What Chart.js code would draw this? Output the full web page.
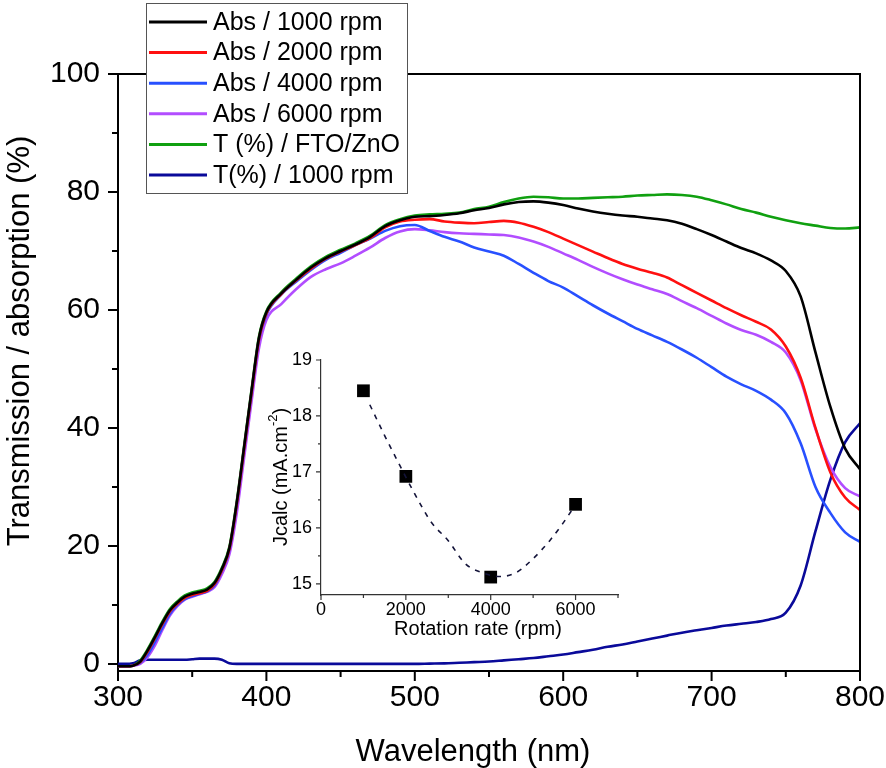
<!DOCTYPE html>
<html>
<head>
<meta charset="utf-8">
<script src="https://cdn.jsdelivr.net/npm/chart.js@4.4.1/dist/chart.umd.min.js"></script>
<style>
  body { margin: 0; background: #fff; }
  #wrap { position: relative; width: 886px; height: 768px; }
  #wrap canvas { position: absolute; left: 0; top: 0; }
</style>
</head>
<body>
<div id="wrap">
  <canvas id="mainChart" width="886" height="768"></canvas>
  <canvas id="insetChart" width="886" height="768"></canvas>
</div>
<script>
// main spectra, wavelength in nm
const wavelengths = [300,305,310,315,320,325,330,335,340,345,350,355,360,365,370,375,380,385,390,395,400,
  410,420,430,440,450,460,470,480,490,500,510,520,530,540,550,560,570,580,590,600,
  610,620,630,640,650,660,670,680,690,700,710,720,730,740,750,760,770,780,790,800];

const abs1000 = [-0.4,-0.4,-0.3,0.4,2.3,4.6,7.0,9.1,10.4,11.4,11.9,12.2,12.6,13.7,16.1,19.6,27.3,36.8,46.3,55.3,59.6,
  62.8,65.1,67.2,68.8,70.0,71.1,72.4,74.2,75.2,75.8,75.9,76.1,76.4,76.9,77.3,77.9,78.3,78.4,78.2,77.8,
  77.2,76.7,76.3,76.0,75.8,75.5,75.2,74.6,73.7,72.7,71.6,70.5,69.6,68.4,66.6,62.3,52.8,43.6,36.5,33.0];

const abs2000 = [-0.4,-0.4,-0.3,0.3,2.1,4.4,6.8,8.9,10.2,11.2,11.7,12.0,12.4,13.5,15.9,19.4,27.0,36.5,46.0,55.0,59.4,
  62.7,65.0,67.0,68.7,69.9,71.0,72.2,74.0,75.0,75.3,75.4,75.0,74.8,74.7,74.9,75.1,74.8,74.1,73.2,72.1,
  71.0,69.9,68.8,67.8,67.0,66.3,65.5,64.2,62.9,61.6,60.3,59.1,58.0,56.7,53.8,48.5,40.0,32.5,28.2,26.1];

const abs4000 = [-0.4,-0.4,-0.3,0.2,1.6,3.8,6.2,8.5,10.0,11.0,11.5,11.9,12.3,13.3,15.8,19.3,27.0,36.5,46.0,55.0,59.2,
  62.6,64.8,66.8,68.5,69.7,71.0,72.1,73.4,74.2,74.4,73.4,72.4,71.6,70.6,69.9,69.2,67.8,66.3,64.9,63.8,
  62.3,60.8,59.4,58.1,56.8,55.7,54.6,53.3,51.9,50.3,48.7,47.4,46.3,44.8,42.5,37.4,30.0,25.6,22.3,20.7];

const abs6000 = [-0.4,-0.4,-0.3,0.0,1.2,3.2,5.8,8.2,9.8,10.9,11.4,11.8,12.2,13.0,15.2,18.5,25.5,35.0,44.5,53.5,58.3,
  61.0,63.5,65.6,66.9,67.9,69.2,70.6,72.2,73.3,73.7,73.5,73.2,73.0,72.9,72.8,72.7,72.3,71.6,70.7,69.6,
  68.5,67.3,66.2,65.2,64.3,63.5,62.7,61.5,60.3,59.0,57.7,56.6,55.8,54.6,52.8,48.1,39.8,33.4,29.8,28.4];

const tFtoZno = [-0.4,-0.4,-0.3,0.6,2.5,4.8,7.2,9.3,10.6,11.6,12.1,12.4,12.8,13.9,16.3,19.8,27.5,37.0,46.5,55.5,59.8,
  63.0,65.3,67.4,69.0,70.2,71.3,72.6,74.4,75.4,76.0,76.2,76.3,76.5,77.1,77.5,78.3,78.9,79.2,79.1,78.9,
  78.9,79.0,79.1,79.2,79.4,79.5,79.6,79.5,79.2,78.6,77.9,77.1,76.5,75.8,75.2,74.7,74.3,73.9,73.8,74.0];

const t1000 = [0.0,0.0,0.1,0.6,0.7,0.7,0.7,0.7,0.7,0.7,0.8,0.9,0.9,0.9,0.7,0.1,0.0,0.0,0.0,0.0,0.0,
  0.0,0.0,0.0,0.0,0.0,0.0,0.0,0.0,0.0,0.0,0.05,0.1,0.2,0.3,0.4,0.6,0.8,1.0,1.3,1.6,
  2.0,2.4,2.9,3.3,3.8,4.3,4.8,5.3,5.7,6.1,6.5,6.8,7.1,7.6,8.7,13.3,22.5,31.2,37.6,40.8];

const seriesLabels = ["Abs / 1000 rpm", "Abs / 2000 rpm", "Abs / 4000 rpm", "Abs / 6000 rpm", "T (%) / FTO/ZnO", "T(%) / 1000 rpm"];
const seriesColors = ["#000000", "#ff1010", "#2850ff", "#b24dff", "#10a010", "#0a0a9a"];

const xTicks = [300, 400, 500, 600, 700, 800];
const xMinorTicks = [350, 450, 550, 650, 750];
const yTicks = [0, 20, 40, 60, 80, 100];
const yMinorTicks = [10, 30, 50, 70, 90];

// inset: Jcalc vs rotation rate
const rpm = [1000, 2000, 4000, 6000];
const jcalc = [18.45, 16.92, 15.12, 16.42];
const fitRpm = [1150, 1500, 1800, 2200, 2600, 3000, 3400, 3800, 4200, 4600, 5000, 5400, 5700, 5900];
const fitJ = [18.2, 17.65, 17.2, 16.62, 16.1, 15.77, 15.36, 15.2, 15.13, 15.2, 15.45, 15.78, 16.08, 16.3];
const insetXTicks = [0, 2000, 4000, 6000];
const insetXMinor = [1000, 3000, 5000, 7000];
const insetYTicks = [15, 16, 17, 18, 19];
const insetYMinor = [15.5, 16.5, 17.5, 18.5];

const FONT = "'Liberation Sans', Arial, sans-serif";
Chart.defaults.font.family = FONT;
Chart.defaults.color = "#000";

function drawTickMarks(chart, axis, values, len, width, color) {
    const ctx = chart.ctx;
    const s = chart.scales[axis];
    ctx.save();
    ctx.strokeStyle = color;
    ctx.lineWidth = width;
    ctx.beginPath();
    values.forEach(v => {
        const p = s.getPixelForValue(v);
        if (s.isHorizontal()) {
            ctx.moveTo(p, s.top);
            ctx.lineTo(p, s.top + len);
        } else {
            ctx.moveTo(s.right, p);
            ctx.lineTo(s.right - len, p);
        }
    });
    ctx.stroke();
    ctx.restore();
}

function fixedTicks(list) {
    return function (scale) {
        scale.ticks = list.map(v => ({ value: v }));
    };
}

// pin the axis size and drop the label overflow padding so the plot area stays put
function fixSize(size) {
    return function (scale) {
        if (scale.isHorizontal()) {
            scale.height = size;
        } else {
            scale.width = size;
        }
        scale.paddingLeft = 0;
        scale.paddingRight = 0;
        scale.paddingTop = 0;
        scale.paddingBottom = 0;
    };
}

const plainLabel = v => String(v);

const mainDecor = {
    id: "mainDecor",
    afterDraw(chart) {
        const ctx = chart.ctx;
        const a = chart.chartArea;
        // frame top and right
        ctx.save();
        ctx.strokeStyle = "#000";
        ctx.lineWidth = 2;
        ctx.beginPath();
        ctx.moveTo(a.left, a.top);
        ctx.lineTo(a.right, a.top);
        ctx.lineTo(a.right, a.bottom);
        ctx.stroke();
        ctx.restore();

        drawTickMarks(chart, "x", xTicks, 10, 2, "#000");
        drawTickMarks(chart, "x", xMinorTicks, 6, 2, "#000");
        drawTickMarks(chart, "y", yTicks, 10, 2, "#000");
        drawTickMarks(chart, "y", yMinorTicks, 6, 2, "#000");

        // axis titles
        ctx.save();
        ctx.fillStyle = "#000";
        ctx.font = "31px " + FONT;
        ctx.textAlign = "center";
        ctx.textBaseline = "middle";
        ctx.fillText("Wavelength (nm)", 473, 752);
        ctx.translate(20, 341);
        ctx.rotate(-Math.PI / 2);
        ctx.fillText("Transmission / absorption (%)", 0, 0);
        ctx.restore();

        // legend box
        ctx.save();
        ctx.fillStyle = "#fff";
        ctx.fillRect(146, 3, 261, 190);
        ctx.strokeStyle = "#555";
        ctx.lineWidth = 1;
        ctx.strokeRect(146.5, 3.5, 261, 190);
        ctx.font = "25px " + FONT;
        ctx.textBaseline = "middle";
        chart.data.datasets.forEach((ds, i) => {
            const y = 22 + i * 30.6;
            ctx.strokeStyle = ds.borderColor;
            ctx.lineWidth = 3;
            ctx.beginPath();
            ctx.moveTo(149, y);
            ctx.lineTo(207, y);
            ctx.stroke();
            ctx.fillStyle = "#000";
            ctx.fillText(ds.label, 213, y + 1);
        });
        ctx.restore();
    }
};

const spectra = [abs1000, abs2000, abs4000, abs6000, tFtoZno, t1000];

new Chart(document.getElementById("mainChart"), {
    type: "line",
    data: {
        datasets: spectra.map((vals, i) => ({
            label: seriesLabels[i],
            data: wavelengths.map((w, k) => ({ x: w, y: vals[k] })),
            borderColor: seriesColors[i],
            borderWidth: 2.6,
            pointRadius: 0,
            cubicInterpolationMode: "monotone",
            fill: false
        }))
    },
    options: {
        responsive: false,
        animation: false,
        events: [],
        layout: { padding: { left: 0, top: 74, right: 26, bottom: 0 } },
        plugins: { legend: { display: false }, tooltip: { enabled: false } },
        scales: {
            x: {
                type: "linear",
                min: 300,
                max: 800,
                bounds: "data",
                afterBuildTicks: fixedTicks(xTicks),
                afterFit: fixSize(97),
                grid: { display: false, drawTicks: false },
                border: { display: true, color: "#000", width: 2 },
                ticks: { font: { size: 30 }, padding: 9, color: "#000", maxRotation: 0, callback: plainLabel }
            },
            y: {
                type: "linear",
                min: -1.2,
                max: 100,
                bounds: "data",
                afterBuildTicks: fixedTicks(yTicks),
                afterFit: fixSize(118),
                grid: { display: false, drawTicks: false },
                border: { display: true, color: "#000", width: 2 },
                ticks: { font: { size: 30 }, padding: 18, color: "#000", callback: plainLabel }
            }
        }
    },
    plugins: [mainDecor]
});

const insetDecor = {
    id: "insetDecor",
    afterDraw(chart) {
        const ctx = chart.ctx;
        drawTickMarks(chart, "x", insetXTicks, 5, 1.2, "#333");
        drawTickMarks(chart, "x", insetXMinor, 3, 1.2, "#333");
        drawTickMarks(chart, "y", insetYTicks, 5, 1.2, "#333");
        drawTickMarks(chart, "y", insetYMinor, 3, 1.2, "#333");

        ctx.save();
        ctx.fillStyle = "#000";
        ctx.textBaseline = "middle";
        ctx.textAlign = "center";
        ctx.font = "20px " + FONT;
        ctx.fillText("Rotation rate (rpm)", 478, 629);

        // rotated y title with superscript
        const main = "Jcalc (mA.cm";
        const sup = "-2";
        const close = ")";
        ctx.font = "20px " + FONT;
        const w1 = ctx.measureText(main).width;
        const w3 = ctx.measureText(close).width;
        ctx.font = "13px " + FONT;
        const w2 = ctx.measureText(sup).width;
        const total = w1 + w2 + w3;
        ctx.translate(281, 477);
        ctx.rotate(-Math.PI / 2);
        ctx.textAlign = "left";
        let x = -total / 2;
        ctx.font = "20px " + FONT;
        ctx.fillText(main, x, 0);
        x += w1;
        ctx.font = "13px " + FONT;
        ctx.fillText(sup, x, -8);
        x += w2;
        ctx.font = "20px " + FONT;
        ctx.fillText(close, x, 0);
        ctx.restore();
    }
};

new Chart(document.getElementById("insetChart"), {
    type: "scatter",
    data: {
        datasets: [
            {
                label: "fit",
                type: "line",
                data: fitRpm.map((r, k) => ({ x: r, y: fitJ[k] })),
                borderColor: "#14143a",
                borderWidth: 1.6,
                borderDash: [5, 6],
                pointRadius: 0,
                cubicInterpolationMode: "monotone",
                fill: false
            },
            {
                label: "Jcalc",
                data: rpm.map((r, k) => ({ x: r, y: jcalc[k] })),
                pointStyle: "rect",
                pointRadius: 9,
                backgroundColor: "#000",
                borderColor: "#000",
                borderWidth: 0
            }
        ]
    },
    options: {
        responsive: false,
        animation: false,
        events: [],
        layout: { padding: { left: 260, top: 360, right: 268, bottom: 118 } },
        plugins: { legend: { display: false }, tooltip: { enabled: false } },
        scales: {
            x: {
                type: "linear",
                min: 0,
                max: 7000,
                bounds: "data",
                afterBuildTicks: fixedTicks(insetXTicks),
                afterFit: fixSize(55),
                grid: { display: false, drawTicks: false },
                border: { display: true, color: "#333", width: 1.2 },
                ticks: { font: { size: 18 }, padding: 4, color: "#000", maxRotation: 0, callback: plainLabel }
            },
            y: {
                type: "linear",
                min: 14.8,
                max: 19,
                bounds: "data",
                afterBuildTicks: fixedTicks(insetYTicks),
                afterFit: fixSize(61),
                grid: { display: false, drawTicks: false },
                border: { display: true, color: "#333", width: 1.2 },
                ticks: { font: { size: 18 }, padding: 9, color: "#000", callback: plainLabel }
            }
        }
    },
    plugins: [insetDecor]
});
</script>
</body>
</html>
